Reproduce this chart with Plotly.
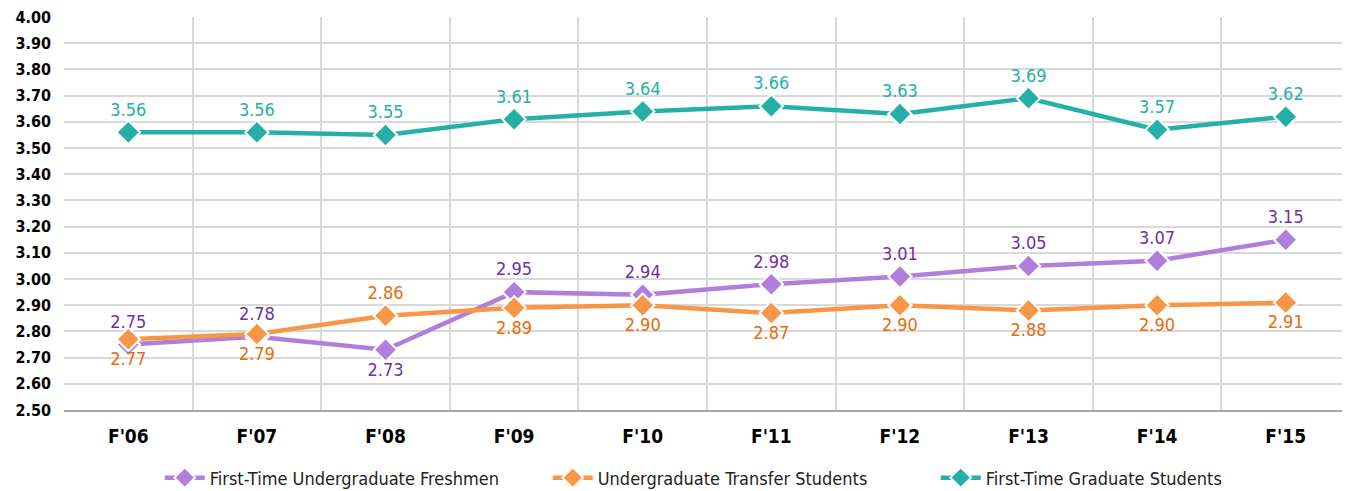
import plotly.graph_objects as go

categories = ["F'06", "F'07", "F'08", "F'09", "F'10", "F'11", "F'12", "F'13", "F'14", "F'15"]
freshmen = [2.75, 2.78, 2.73, 2.95, 2.94, 2.98, 3.01, 3.05, 3.07, 3.15]
transfer = [2.77, 2.79, 2.86, 2.89, 2.90, 2.87, 2.90, 2.88, 2.90, 2.91]
graduate = [3.56, 3.56, 3.55, 3.61, 3.64, 3.66, 3.63, 3.69, 3.57, 3.62]

fresh_pos = ["top center", "top center", "bottom center", "top center", "top center",
             "top center", "top center", "top center", "top center", "top center"]
trans_pos = ["bottom center", "bottom center", "top center", "bottom center", "bottom center",
             "bottom center", "bottom center", "bottom center", "bottom center", "bottom center"]

FONT = "DejaVu Sans Condensed, Liberation Sans Narrow, sans-serif"

fig = go.Figure()

def add(name, vals, line_color, text_color, pos):
    fig.add_trace(go.Scatter(
        x=categories, y=vals, name=name, mode="lines+markers+text",
        line=dict(color=line_color, width=4.5),
        marker=dict(symbol="diamond", size=18, color=line_color,
                    line=dict(color="white", width=2)),
        text=[f"{v:.2f}" for v in vals], textposition=pos,
        textfont=dict(family=FONT, size=18, color=text_color),
        cliponaxis=False,
    ))

add("First-Time Undergraduate Freshmen", freshmen, "#B07FDB", "#7030A0", fresh_pos)
add("Undergraduate Transfer Students", transfer, "#F79646", "#E46C0A", trans_pos)
add("First-Time Graduate Students", graduate, "#24B0A6", "#24B0A6", "top center")

fig.update_layout(
    width=1342, height=483,
    margin=dict(l=56, r=0, t=9, b=81, autoexpand=False),
    plot_bgcolor="white", paper_bgcolor="white",
    font=dict(family=FONT, color="black"),
    showlegend=True,
    legend=dict(orientation="h", x=0.527, xanchor="center", yref="container",
                y=0.027, yanchor="middle",
                font=dict(family=FONT, size=18, color="#222222"),
                itemwidth=40, tracegroupgap=0, entrywidth=333),
)
fig.update_xaxes(
    type="category", tickson="boundaries", showgrid=True, gridcolor="#D9D9D9", gridwidth=1.5,
    showline=True, linecolor="#A6A6A6", linewidth=2, ticks="",
    tickfont=dict(family=FONT, size=19, color="black", weight="bold"),
    range=[-0.5, 9.5], automargin=False, ticklabelstandoff=8,
)
fig.update_yaxes(
    range=[2.5, 4.0004], tick0=2.5, dtick=0.1, tickformat=".2f", showgrid=True,
    gridcolor="#D9D9D9", gridwidth=1.5, zeroline=False, ticks="", ticklabelstandoff=12,
    automargin=False, ticklabeloverflow="allow",
    tickfont=dict(family=FONT, size=16, color="black", weight="bold"),
)

fig.write_html("out.html")
